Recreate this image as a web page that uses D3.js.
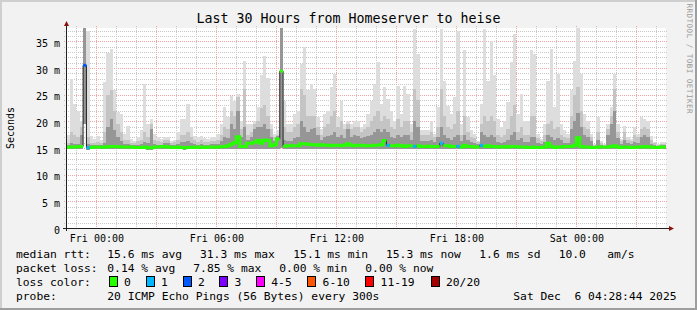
<!DOCTYPE html>
<html>
<head>
<meta charset="utf-8">
<script src="https://cdn.jsdelivr.net/npm/d3@7"></script>
<style>
  html, body { margin: 0; padding: 0; background: #f2f2f2; }
  svg { display: block; font-family: "DejaVu Sans Mono", monospace; }
  text { white-space: pre; }
</style>
</head>
<body>
<div id="smokeping"></div>
<script>
// ---- data ----
const chartTitle = "Last 30 Hours from Homeserver to heise";
const yLabel = "Seconds";
const watermark = "RRDTOOL / TOBI OETIKER";

const graphStart = new Date(Date.UTC(2025, 11, 4, 22, 28, 44));
const graphEnd = new Date(Date.UTC(2025, 11, 6, 4, 28, 44));
const firstBin = new Date(Date.UTC(2025, 11, 4, 22, 30));
const binMinutes = 10;

const yTicks = [0, 5, 10, 15, 20, 25, 30, 35];

// highest ping of each 10 minute bin (ms)
const maxRtt = [
  17.5, 27.9, 23.2, 22.0, 20.0, 40.0, 37.0, 17.3, 16.7, 17.3, 16.5, 27.3, 32.8, 33.6, 25.8, 21.7, 21.4, 17.6, 19.2, 16.7,
  16.4, 17.0, 18.3, 27.0, 19.5, 20.4, 17.6, 17.0, 16.7, 17.0, 17.0, 16.3, 16.5, 18.0, 20.4, 20.4, 23.3, 19.0, 17.3, 17.0,
  17.3, 16.8, 16.7, 17.0, 17.0, 17.6, 19.5, 22.6, 20.8, 24.8, 23.9, 25.1, 20.1, 31.4, 19.5, 19.5, 20.1, 22.6, 28.6, 32.3,
  28.2, 19.5, 17.6, 18.3, 40.0, 23.9, 19.5, 19.5, 21.4, 22.0, 30.8, 33.9, 25.8, 27.0, 26.1, 20.8, 18.6, 21.4, 22.0, 26.4,
  28.9, 20.8, 23.9, 19.5, 20.1, 19.5, 20.1, 20.1, 18.9, 19.5, 21.4, 23.9, 27.0, 31.1, 23.3, 26.4, 24.2, 22.0, 20.1, 26.7,
  21.4, 26.7, 25.1, 19.5, 37.3, 32.6, 18.3, 18.3, 18.3, 20.1, 17.6, 22.6, 37.3, 27.6, 22.9, 21.4, 24.5, 37.0, 19.5, 33.3,
  20.8, 18.3, 17.6, 16.4, 23.3, 37.3, 27.6, 35.1, 28.6, 20.4, 18.9, 20.1, 23.6, 31.1, 36.4, 21.4, 25.1, 20.1, 20.1, 33.3,
  32.6, 17.6, 16.7, 19.5, 27.6, 33.6, 22.6, 28.9, 19.5, 18.3, 17.6, 25.8, 31.4, 37.5, 28.9, 21.4, 20.1, 17.6, 15.8, 20.8,
  16.4, 15.8, 19.5, 22.6, 28.9, 19.5, 16.7, 19.2, 17.0, 16.7, 18.9, 17.6, 20.8, 20.4, 20.1, 17.3, 16.1, 15.8, 16.1, 16.1
];

// upper edge of the middle grey smoke
const hi2Rtt = [
  16.0, 18.0, 17.5, 17.0, 19.0, 40.0, 17.0, 16.0, 16.0, 16.2, 16.0, 18.0, 25.0, 25.8, 22.0, 19.5, 18.0, 16.5, 16.5, 16.0,
  16.0, 16.3, 16.5, 18.0, 17.0, 19.5, 16.5, 16.3, 16.2, 16.5, 16.5, 16.0, 16.2, 16.5, 17.5, 17.5, 18.0, 17.0, 16.5, 16.2,
  16.5, 16.2, 16.2, 16.3, 16.3, 16.5, 17.5, 19.0, 18.5, 22.0, 21.0, 24.5, 18.5, 26.0, 17.5, 18.0, 19.5, 20.0, 22.5, 23.0,
  21.0, 18.5, 17.0, 17.5, 40.0, 19.0, 18.0, 18.0, 19.0, 19.5, 26.0, 25.0, 21.0, 21.0, 21.0, 19.0, 17.5, 19.0, 19.5, 21.0,
  22.0, 19.0, 20.0, 18.5, 19.5, 18.5, 19.0, 19.0, 18.0, 18.5, 19.0, 20.0, 21.0, 22.0, 20.0, 21.0, 20.5, 19.0, 18.5, 20.5,
  19.0, 20.0, 20.0, 18.0, 26.0, 24.0, 17.5, 17.5, 17.5, 18.0, 17.0, 19.0, 26.0, 21.0, 19.0, 18.5, 19.5, 22.0, 17.5, 21.0,
  18.0, 17.0, 16.8, 16.2, 19.5, 21.0, 20.0, 21.0, 20.0, 17.5, 17.0, 17.5, 18.5, 21.0, 23.0, 18.0, 19.0, 17.5, 17.5, 21.0,
  21.0, 16.8, 16.3, 17.5, 19.5, 20.0, 18.5, 19.0, 17.5, 17.0, 16.8, 21.0, 25.0, 26.5, 22.0, 19.0, 18.5, 17.0, 15.6, 18.0,
  16.0, 15.6, 18.5, 21.0, 26.0, 18.0, 16.3, 18.0, 16.5, 16.3, 17.5, 17.0, 18.5, 19.0, 18.5, 16.5, 15.9, 15.6, 15.8, 15.8
];

// upper edge of the dark core of the smoke
const hi3Rtt = [
  15.5, 16.0, 15.8, 15.8, 17.5, 38.0, 15.8, 15.5, 15.5, 15.6, 15.5, 16.0, 19.0, 20.5, 18.3, 17.0, 16.4, 15.8, 15.8, 15.5,
  15.5, 15.6, 15.8, 16.2, 16.0, 18.5, 15.8, 15.6, 15.6, 16.0, 16.0, 15.6, 15.6, 15.8, 16.2, 16.2, 16.3, 16.0, 15.8, 15.6,
  15.7, 15.6, 15.6, 15.7, 15.7, 15.8, 16.3, 17.0, 16.8, 19.5, 18.5, 22.0, 17.0, 19.0, 16.5, 17.0, 18.5, 19.0, 19.0, 19.5,
  18.5, 17.0, 16.3, 17.2, 38.0, 16.5, 16.3, 16.3, 16.8, 17.0, 20.0, 19.0, 18.0, 18.5, 18.8, 17.5, 16.5, 17.0, 17.2, 17.5,
  18.0, 17.0, 17.5, 16.8, 18.5, 17.0, 17.5, 17.3, 16.8, 17.0, 17.2, 17.5, 18.0, 18.5, 18.0, 18.5, 18.0, 17.0, 16.8, 17.5,
  17.0, 17.5, 17.5, 16.5, 20.0, 19.0, 16.3, 16.3, 16.3, 16.5, 16.2, 17.0, 19.0, 17.5, 16.8, 16.5, 17.0, 17.5, 16.3, 17.5,
  16.5, 16.2, 16.0, 15.8, 18.0, 17.5, 17.0, 17.5, 17.0, 16.2, 16.0, 16.2, 16.5, 17.5, 18.0, 16.5, 16.8, 16.2, 16.2, 17.0,
  17.0, 15.9, 15.8, 16.2, 17.5, 17.0, 16.5, 16.8, 16.5, 16.0, 16.0, 18.5, 20.0, 21.5, 19.0, 17.5, 17.0, 16.3, 15.4, 16.5,
  15.6, 15.4, 17.5, 19.5, 22.0, 16.8, 15.8, 16.5, 15.9, 15.8, 16.2, 16.0, 17.0, 17.5, 17.0, 15.8, 15.5, 15.4, 15.5, 15.5
];

// median round trip time
const medianRtt = [
  15.15, 15.2, 15.2, 15.25, 15.3, 30.5, 15.05, 15.1, 15.2, 15.2, 15.2, 15.15, 15.25, 15.3, 15.3, 15.25, 15.2, 15.2, 15.2, 15.2,
  15.1, 15.1, 15.1, 15.2, 15.05, 15.05, 15.2, 15.2, 15.25, 15.3, 15.2, 15.15, 15.1, 15.2, 15.1, 15.05, 15.1, 15.15, 15.1, 15.2,
  15.15, 15.1, 15.2, 15.2, 15.15, 15.2, 15.25, 15.3, 15.4, 15.7, 16.0, 17.1, 15.3, 15.3, 15.9, 15.9, 16.1, 16.4, 15.9, 16.5,
  16.4, 15.4, 15.6, 16.7, 29.4, 15.35, 15.4, 15.4, 15.4, 15.4, 15.8, 15.8, 15.7, 15.6, 15.6, 15.5, 15.6, 15.5, 15.5, 15.4,
  15.5, 15.5, 15.4, 15.5, 15.8, 15.5, 15.4, 15.5, 15.5, 15.4, 15.4, 15.4, 15.5, 15.5, 15.6, 16.4, 15.5, 15.4, 15.4, 15.5,
  15.4, 15.3, 15.4, 15.4, 15.3, 15.4, 15.3, 15.3, 15.35, 15.3, 15.3, 15.3, 15.9, 15.4, 15.4, 15.3, 15.3, 15.3, 15.2, 15.5,
  15.3, 15.3, 15.2, 15.2, 15.5, 15.3, 15.4, 15.3, 15.3, 15.2, 15.2, 15.3, 15.2, 15.3, 15.3, 15.2, 15.2, 15.2, 15.1, 15.1,
  15.2, 15.1, 15.1, 15.2, 15.9, 15.3, 15.1, 15.2, 15.2, 15.3, 15.3, 15.3, 15.5, 16.9, 15.3, 15.2, 15.2, 15.1, 15.1, 15.2,
  15.2, 15.2, 15.2, 15.3, 15.4, 15.2, 15.1, 15.2, 15.2, 15.1, 15.1, 15.2, 15.2, 15.3, 15.2, 15.2, 15.1, 15.1, 15.2, 15.2
];

// lowest ping of each bin
const minRtt = [
  14.8, 14.8, 14.8, 14.8, 14.8, 19.5, 14.7, 14.8, 14.8, 14.8, 14.8, 14.8, 14.8, 14.8, 14.8, 14.8, 14.8, 14.8, 14.8, 14.8,
  14.8, 14.8, 14.8, 14.8, 14.7, 14.7, 14.8, 14.8, 14.8, 14.8, 14.8, 14.8, 14.8, 14.8, 14.8, 14.7, 14.8, 14.8, 14.8, 14.8,
  14.8, 14.8, 14.8, 14.8, 14.8, 14.8, 14.8, 14.8, 14.8, 14.9, 14.9, 14.9, 14.9, 14.9, 14.9, 14.9, 14.9, 14.9, 14.9, 14.9,
  14.9, 14.9, 14.9, 14.9, 15.0, 14.8, 14.8, 14.8, 14.8, 14.8, 14.8, 14.8, 14.8, 14.8, 14.8, 14.8, 14.8, 14.8, 14.8, 14.8,
  14.8, 14.8, 14.8, 14.8, 14.8, 14.8, 14.8, 14.8, 14.8, 14.8, 14.8, 14.8, 14.8, 14.8, 14.8, 14.8, 14.8, 14.8, 14.8, 14.8,
  14.8, 14.8, 14.8, 14.8, 14.8, 14.8, 14.8, 14.8, 14.8, 14.8, 14.8, 14.8, 14.8, 14.8, 14.8, 14.8, 14.8, 14.8, 14.8, 14.8,
  14.8, 14.8, 14.8, 14.8, 14.8, 14.8, 14.8, 14.8, 14.8, 14.8, 14.8, 14.8, 14.8, 14.8, 14.8, 14.8, 14.8, 14.8, 14.8, 14.8,
  14.8, 14.8, 14.8, 14.8, 14.8, 14.8, 14.8, 14.8, 14.8, 14.8, 14.8, 14.8, 14.8, 14.8, 14.8, 14.8, 14.8, 14.8, 14.8, 14.8,
  14.8, 14.8, 14.8, 14.8, 14.8, 14.8, 14.8, 14.8, 14.8, 14.8, 14.8, 14.8, 14.8, 14.8, 14.8, 14.8, 14.8, 14.8, 14.8, 14.8
];

// pings lost out of 20 in each bin
const lostPings = [
  0, 0, 0, 0, 0, 2, 1, 0, 0, 0, 0, 0, 0, 0, 0, 0, 0, 0, 0, 0,
  0, 0, 0, 0, 0, 0, 0, 0, 0, 0, 0, 0, 0, 0, 0, 0, 0, 0, 0, 0,
  0, 0, 0, 0, 0, 0, 0, 0, 0, 0, 0, 0, 0, 0, 0, 0, 0, 0, 0, 0,
  0, 0, 0, 0, 0, 0, 0, 0, 0, 0, 0, 0, 0, 0, 0, 0, 0, 0, 0, 0,
  0, 0, 0, 0, 0, 0, 0, 0, 0, 0, 0, 0, 0, 0, 0, 0, 1, 0, 0, 0,
  0, 0, 0, 0, 1, 0, 0, 0, 0, 0, 0, 0, 1, 0, 0, 0, 0, 1, 0, 0,
  0, 0, 0, 0, 1, 0, 0, 0, 0, 0, 0, 0, 0, 0, 0, 0, 0, 0, 0, 0,
  0, 0, 0, 0, 0, 0, 0, 0, 0, 0, 0, 0, 0, 0, 0, 0, 0, 0, 0, 0,
  0, 0, 0, 0, 0, 0, 0, 0, 0, 0, 0, 0, 0, 0, 0, 0, 0, 0, 0, 0
];

const lossLabels = ["0", "1", "2", "3", "4-5", "6-10", "11-19", "20/20"];
const lossUpper = [0, 1, 2, 3, 5, 10, 19, 20];
const lossColors = ["#26ff00", "#00b8ff", "#0059ff", "#7e00ff", "#ff00ff", "#ff5500", "#ff0000", "#a00000"];

const rttStats = ["15.6 ms avg", "31.3 ms max", "15.1 ms min", "15.3 ms now", "1.6 ms sd", "10.0", "am/s"];
const lossStats = ["0.14 % avg", "7.85 % max", "0.00 % min", "0.00 % now"];
const probeText = "20 ICMP Echo Pings (56 Bytes) every 300s";
const stampText = "Sat Dec  6 04:28:44 2025";

// ---- layout ----
const width = 697;
const height = 310;
const plot = { left: 66, right: 666, top: 28, bottom: 228 };

const svg = d3.select("#smokeping").append("svg")
  .attr("width", width)
  .attr("height", height);

// background with rrdtool style shaded frame
svg.append("rect").attr("width", width).attr("height", height).attr("fill", "#f2f2f2");
svg.append("path").attr("d", `M0,0H${width}V2H2V${height}H0Z`).attr("fill", "#cfcfcf");
svg.append("path").attr("d", `M${width},${height}H0V${height - 2}H${width - 2}V0H${width}Z`).attr("fill", "#9e9e9e");

svg.append("rect")
  .attr("x", plot.left).attr("y", plot.top)
  .attr("width", plot.right - plot.left).attr("height", plot.bottom - plot.top)
  .attr("fill", "#ffffff");

const x = d3.scaleUtc()
  .domain([graphStart, graphEnd])
  .range([plot.left, plot.right]);

const y = d3.scaleLinear()
  .domain([0, 37.5])
  .range([plot.bottom, plot.top]);

// Dotted grid: 1px on / 1px off, done with small tiling patterns
const defs = svg.append("defs");
function dotPattern(id, color, horizontal) {
  const p = defs.append("pattern")
    .attr("id", id)
    .attr("patternUnits", "userSpaceOnUse")
    .attr("width", horizontal ? 2 : 1)
    .attr("height", horizontal ? 1 : 2);
  p.append("rect").attr("width", 1).attr("height", 1).attr("fill", color);
}
dotPattern("dot-h-minor", "#c8c8c8", true);
dotPattern("dot-v-minor", "#c8c8c8", false);
dotPattern("dot-h-major", "#f3a4a4", true);
dotPattern("dot-v-major", "#f3a4a4", false);

const grid = svg.append("g").attr("shape-rendering", "crispEdges");
const minorY = d3.range(1, 38).filter(v => v % 5 !== 0);
const majorY = yTicks.filter(v => v > 0);
const hours = d3.utcHour.every(1).range(graphStart, graphEnd);
const minorX = hours.filter(d => d.getUTCHours() % 3 !== 0);
const majorX = hours.filter(d => d.getUTCHours() % 3 === 0);

function hLines(values, fill) {
  grid.append("g").selectAll("rect").data(values).enter().append("rect")
    .attr("x", plot.left - 2)
    .attr("y", d => Math.round(y(d)))
    .attr("width", plot.right - plot.left + 4)
    .attr("height", 1)
    .attr("fill", fill);
}
function vLines(values, fill) {
  grid.append("g").selectAll("rect").data(values).enter().append("rect")
    .attr("x", d => Math.round(x(d)))
    .attr("y", plot.top - 2)
    .attr("width", 1)
    .attr("height", plot.bottom - plot.top + 4)
    .attr("fill", fill);
}
hLines(minorY, "url(#dot-h-minor)");
vLines(minorX, "url(#dot-v-minor)");
hLines(majorY, "url(#dot-h-major)");
vLines(majorX, "url(#dot-v-major)");

// Data rows, one per bin, plus an end marker so steps reach the bin's end
const binTime = i => d3.utcMinute.offset(firstBin, i * binMinutes);
const rows = medianRtt.map((m, i) => ({
  t: binTime(i), t1: binTime(i + 1),
  median: m, min: minRtt[i], max: maxRtt[i], hi2: hi2Rtt[i], hi3: hi3Rtt[i],
  level: lossUpper.findIndex(u => lostPings[i] <= u)
}));
const stepped = rows.concat([{ ...rows[rows.length - 1], t: rows[rows.length - 1].t1 }]);

svg.append("clipPath").attr("id", "plot-clip")
  .append("rect")
  .attr("x", plot.left).attr("y", plot.top)
  .attr("width", plot.right - plot.left).attr("height", plot.bottom - plot.top);

const data = svg.append("g").attr("clip-path", "url(#plot-clip)");

// Smoke: nested bands from the lowest ping up to ever closer quantiles
const bands = [
  { key: "max", color: "#dddddd" },
  { key: "hi2", color: "#c4c4c4" },
  { key: "hi3", color: "#969696" }
];
bands.forEach(b => {
  const area = d3.area()
    .curve(d3.curveStepAfter)
    .x(d => x(d.t))
    .y0(d => y(d.min))
    .y1(d => y(d[b.key]));
  data.append("path")
    .datum(stepped)
    .attr("fill", b.color)
    .attr("shape-rendering", "crispEdges")
    .attr("d", area);
});

// Median: thin dark line underneath, loss coloured thick line on top
const stepLine = d3.line()
  .curve(d3.curveStepAfter)
  .x(d => x(d.t))
  .y(d => y(d.median));

data.append("path")
  .datum(stepped)
  .attr("fill", "none")
  .attr("stroke", "#202020")
  .attr("stroke-width", 1)
  .attr("d", stepLine);

const runs = [];
rows.forEach((r, i) => {
  const prev = rows[i - 1];
  const last = runs[runs.length - 1];
  if (prev && last && prev.level === r.level && Math.abs(prev.median - r.median) < 3) {
    last.push(r);
  } else {
    runs.push([r]);
  }
});

data.selectAll(".median-run")
  .data(runs)
  .enter()
  .append("path")
  .attr("class", "median-run")
  .attr("fill", "none")
  .attr("stroke", d => lossColors[d[0].level])
  .attr("stroke-width", 3)
  .attr("d", run => stepLine(run.concat([{ ...run[run.length - 1], t: run[run.length - 1].t1 }])));

// Axes lines with arrows
const axisColor = "#202020";
const arrowColor = "#8b1010";
svg.append("line")
  .attr("x1", plot.left - 3).attr("x2", plot.right + 4)
  .attr("y1", plot.bottom + 0.5).attr("y2", plot.bottom + 0.5)
  .attr("stroke", axisColor);
svg.append("line")
  .attr("x1", plot.left + 0.5).attr("x2", plot.left + 0.5)
  .attr("y1", plot.bottom + 3).attr("y2", plot.top - 3)
  .attr("stroke", axisColor);
svg.append("path")
  .attr("d", `M${plot.right + 3},${plot.bottom - 2}L${plot.right + 8},${plot.bottom + 0.5}L${plot.right + 3},${plot.bottom + 3}Z`)
  .attr("fill", arrowColor);
svg.append("path")
  .attr("d", `M${plot.left - 2},${plot.top - 2}L${plot.left + 0.5},${plot.top - 7}L${plot.left + 3},${plot.top - 2}Z`)
  .attr("fill", arrowColor);

// Tick labels
const xAxis = svg.append("g")
  .attr("transform", `translate(0,${plot.bottom})`)
  .call(d3.axisBottom(x)
    .tickValues(d3.utcHour.every(6).range(graphStart, graphEnd))
    .tickFormat(d3.utcFormat("%a %H:%M"))
    .tickSize(0)
    .tickPadding(6.5));
xAxis.select(".domain").remove();
xAxis.attr("font-family", null).attr("font-size", null)
  .selectAll("text").style("font-size", "10px").attr("fill", "#000");

const yAxis = svg.append("g")
  .attr("transform", `translate(${plot.left + 0.5},0)`)
  .call(d3.axisLeft(y)
    .tickValues(yTicks)
    .tickFormat(d => d === 0 ? "0" : `${d} m`)
    .tickSize(0)
    .tickPadding(6.5));
yAxis.select(".domain").remove();
yAxis.attr("font-family", null).attr("font-size", null)
  .selectAll("text").style("font-size", "10px").attr("dy", "0.5em").attr("fill", "#000");

// Title, axis label, watermark
svg.append("text")
  .attr("x", 348.5)
  .attr("y", 23.3)
  .attr("text-anchor", "middle")
  .style("font-size", "13.3px")
  .text(chartTitle);

svg.append("text")
  .attr("transform", "rotate(-90)")
  .attr("x", -(plot.top + plot.bottom) / 2)
  .attr("y", 14)
  .attr("text-anchor", "middle")
  .style("font-size", "10px")
  .text(yLabel);

svg.append("text")
  .attr("transform", "translate(686.5,3.5) rotate(90)")
  .style("font-size", "7.6px")
  .style("letter-spacing", "0.45px")
  .attr("fill", "#9a9a9a")
  .text(watermark);

// Legend
const legend = svg.append("g").style("font-size", "11.3px").attr("fill", "#000");
const rowY = [258.3, 272.2, 286.1, 300];

legend.append("text").attr("x", 16).attr("y", rowY[0]).text("median rtt:");
const rttX = [107.3, 200, 293.3, 386, 479.3, 558.7, 607.3];
legend.selectAll(".rtt").data(rttStats).enter().append("text")
  .attr("x", (d, i) => rttX[i]).attr("y", rowY[0]).text(d => d);

legend.append("text").attr("x", 16).attr("y", rowY[1]).text("packet loss:");
const lossX = [107.3, 193.3, 279.3, 365.3];
legend.selectAll(".loss").data(lossStats).enter().append("text")
  .attr("x", (d, i) => lossX[i]).attr("y", rowY[1]).text(d => d);

legend.append("text").attr("x", 16).attr("y", rowY[2]).text("loss color:");
const boxX = [108.7, 145.7, 182.7, 219.3, 256, 307.3, 365.3, 430.7];
legend.selectAll(".lossbox").data(lossColors).enter().append("rect")
  .attr("x", (d, i) => Math.round(boxX[i]) + 0.5)
  .attr("y", rowY[2] - 9.8)
  .attr("width", 8).attr("height", 10)
  .attr("fill", d => d)
  .attr("stroke", "#000")
  .attr("shape-rendering", "crispEdges");
legend.selectAll(".losslabel").data(lossLabels).enter().append("text")
  .attr("x", (d, i) => boxX[i] + 15.3).attr("y", rowY[2]).text(d => d);

legend.append("text").attr("x", 16).attr("y", rowY[3]).text("probe:");
legend.append("text").attr("x", 107.3).attr("y", rowY[3]).text(probeText);
legend.append("text").attr("x", 513.3).attr("y", rowY[3]).text(stampText);
</script>
</body>
</html>
